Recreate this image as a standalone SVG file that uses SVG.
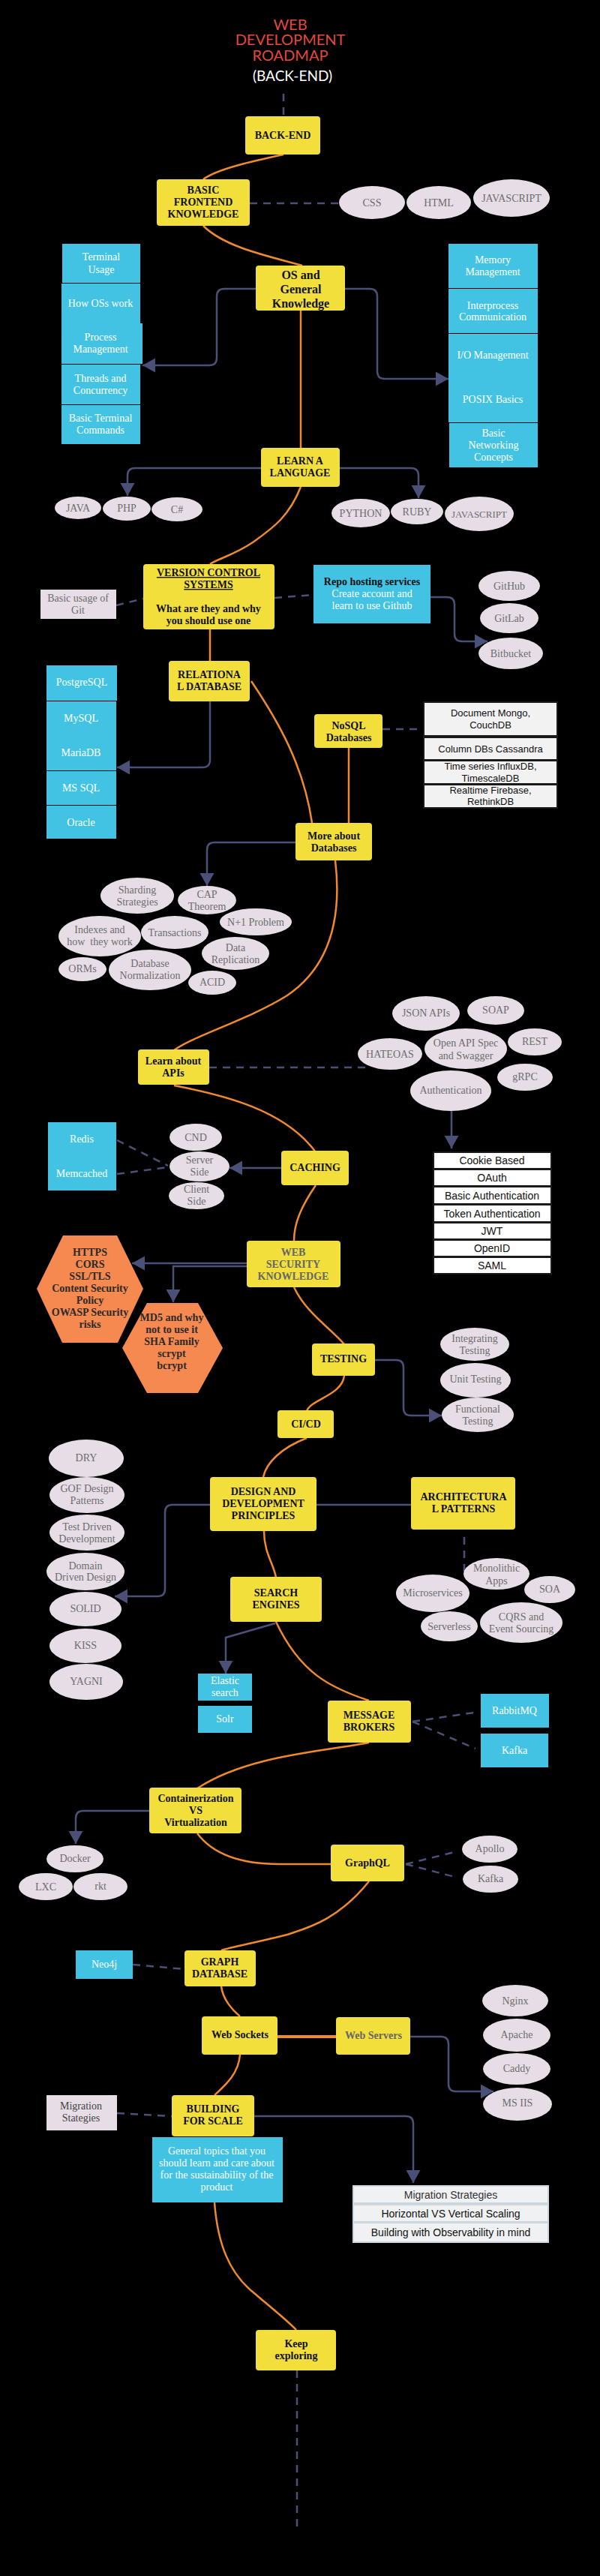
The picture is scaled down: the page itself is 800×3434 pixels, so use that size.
<svg xmlns="http://www.w3.org/2000/svg" width="800" height="3434" viewBox="0 0 800 3434">
<style>
.y{fill:#f2df3c}
.b{fill:#42c3e3}
.e{fill:#e6dde6}
.lv{fill:#e6dde6}
.hx{fill:#f5894f}
.tb{fill:#f2f2f2;stroke:#1a1a1a;stroke-width:2}
.tw{fill:#ffffff;stroke:#1a1a1a;stroke-width:2}
.tl{fill:#f0f1f2;stroke:#cdd5dd;stroke-width:2}
text{font-family:"Liberation Serif","Times New Roman",serif;font-size:14px;text-anchor:middle}
.k{font-weight:bold;fill:#111}
.kg{font-weight:bold;fill:#666}
.w{fill:#ffffff}
.g{fill:#6e6e6e}
.h{font-weight:bold;fill:#2a2a2a}
.s{font-family:"Liberation Sans",Arial,sans-serif;fill:#111}
.s13{font-size:13px}
.u{text-decoration:underline}
.big{font-size:16px}
.ttl{font-family:Lato,"Open Sans",sans-serif;font-size:20px;fill:#e2493b}
.sub{font-family:Lato,"Open Sans",sans-serif;font-size:19px;fill:#ffffff}
.o{stroke:#ef8a2e;stroke-width:2.5;fill:none}
.sl{stroke:#4a5078;stroke-width:2.5;fill:none}
.sa{stroke:#4a5078;stroke-width:2.5;fill:none;marker-end:url(#ar)}
.d{stroke:#4a5078;stroke-width:2.5;fill:none;stroke-dasharray:10 8}
</style>
<defs>
<marker id="ar" markerUnits="userSpaceOnUse" markerWidth="18" markerHeight="20" refX="17" refY="9.5" orient="auto">
<path d="M0,0 L17,9.5 L0,19 Z" fill="#4a5078"/>
</marker>
</defs>
<rect x="0" y="0" width="800" height="3434" fill="#000"/>

<g id="connectors">
<path class="d" d="M378,125 V155"/>
<path class="o" d="M378,206 C340,214 290,225 271,239"/>
<path class="d" d="M333,271 H452"/>
<path class="o" d="M271,301 C300,330 360,342 403,354"/>
<path class="sa" d="M341,385 H299 Q289,385 289,395 V477 Q289,487 279,487 H190"/>
<path class="sa" d="M460,385 H493 Q503,385 503,395 V495 Q503,505 513,505 H598"/>
<path class="o" d="M401,414 V597"/>
<path class="sa" d="M348,624 H180 Q170,624 170,634 V661"/>
<path class="sa" d="M453,624 H548 Q558,624 558,634 V664"/>
<path class="o" d="M401,649 C385,690 362,705 337,723 C312,740 290,745 280,752"/>
<path class="d" d="M155,807 L191,798"/>
<path class="d" d="M366,797 L418,793"/>
<path class="sa" d="M574,796 H596 Q606,796 606,806 V845 Q606,855 616,855 H650"/>
<path class="o" d="M280,839 V881"/>
<path class="sa" d="M280,935 V1013 Q280,1023 270,1023 H156"/>
<path class="o" d="M335,908 C370,960 405,1020 416,1097"/>
<path class="d" d="M510,972 H565"/>
<path class="o" d="M465,997 V1097"/>
<path class="sa" d="M394,1123 H286 Q276,1123 276,1133 V1181"/>
<path class="o" d="M447,1147 C458,1240 430,1295 383,1327 C330,1360 260,1380 232,1400"/>
<path class="d" d="M279,1423 H490"/>
<path class="sa" d="M602,1481 V1531"/>
<path class="o" d="M232,1447 C300,1460 380,1480 421,1536"/>
<path class="sa" d="M375,1557 H306"/>
<path class="d" d="M156,1520 L224,1554"/>
<path class="d" d="M156,1565 L224,1556"/>
<path class="o" d="M421,1580 C402,1608 392,1630 392,1654"/>
<path class="sa" d="M329,1684 H176"/>
<path class="sa" d="M329,1688 H231 V1736"/>
<path class="o" d="M392,1716 C408,1750 440,1770 459,1792"/>
<path class="sa" d="M500,1813 H528 Q538,1813 538,1823 V1877 Q538,1887 548,1887 H589"/>
<path class="o" d="M459,1834 C456,1860 415,1865 409,1881"/>
<path class="o" d="M409,1917 C375,1930 355,1950 351,1969"/>
<path class="sl" d="M422,2006 H548"/>
<path class="sa" d="M280,2006 H230 Q220,2006 220,2016 V2118 Q220,2128 210,2128 H153"/>
<path class="o" d="M352,2041 C352,2070 365,2085 368,2103"/>
<path class="d" d="M619,2049 V2100"/>
<path class="sa" d="M367,2164 L301,2183 V2231"/>
<path class="o" d="M368,2162 C400,2230 440,2250 492,2267"/>
<path class="d" d="M550,2295 L639,2282"/>
<path class="d" d="M550,2295 L634,2331"/>
<path class="o" d="M492,2323 C430,2335 330,2340 263,2384"/>
<path class="sa" d="M199,2414 H111 Q101,2414 101,2424 V2458"/>
<path class="o" d="M263,2444 C290,2480 340,2485 372,2485 L441,2485"/>
<path class="d" d="M541,2485 L610,2468"/>
<path class="d" d="M541,2485 L610,2503"/>
<path class="o" d="M492,2508 C450,2560 410,2570 383,2579 C340,2590 310,2595 295,2600"/>
<path class="d" d="M177,2619 L246,2625"/>
<path class="o" d="M295,2648 C297,2665 310,2680 320,2688"/>
<path class="o" d="M370,2715 H448" style="stroke-width:4"/>
<path class="sa" d="M547,2715 H588 Q598,2715 598,2725 V2778 Q598,2788 608,2788 H658"/>
<path class="o" d="M320,2739 C318,2765 300,2780 286,2793"/>
<path class="d" d="M156,2817 L229,2821"/>
<path class="sa" d="M339,2821 H541 Q551,2821 551,2831 V2910"/>
<path class="o" d="M286,2936 C290,2990 305,3030 339,3057 C360,3075 385,3095 395,3106"/>
<path class="d" d="M396,3160 V3372"/>
</g>

<g id="title">
<text class="ttl" x="387" y="40">WEB</text>
<text class="ttl" x="387" y="60">DEVELOPMENT</text>
<text class="ttl" x="387" y="81">ROADMAP</text>
<text class="sub" x="390" y="108">(BACK-END)</text>
</g>

<g id="backend"><rect class="y" x="327" y="155" width="100" height="51" rx="4"/><text class="k" x="377" y="185">BACK-END</text></g>
<g id="basic-frontend"><rect class="y" x="209" y="239" width="124" height="62" rx="4"/><text class="k" x="271" y="258">BASIC</text><text class="k" x="271" y="274">FRONTEND</text><text class="k" x="271" y="290">KNOWLEDGE</text></g>
<g id="css"><ellipse class="e" cx="496" cy="270" rx="44" ry="22"/><text class="g" x="496" y="275">CSS</text></g>
<g id="html"><ellipse class="e" cx="585" cy="270" rx="43" ry="22"/><text class="g" x="585" y="275">HTML</text></g>
<g id="javascript-fe"><ellipse class="e" cx="682" cy="264" rx="51" ry="25"/><text class="g" x="682" y="269">JAVASCRIPT</text></g>

<g id="terminal-usage"><rect class="b" x="83" y="325" width="104" height="52"/><text class="w" x="135" y="347">Terminal</text><text class="w" x="135" y="364">Usage</text></g>
<g id="how-os"><rect class="b" x="82" y="378" width="105" height="53"/><text class="w" x="134" y="409">How OSs work</text></g>
<g id="process-mgmt"><rect class="b" x="82" y="431" width="108" height="54"/><text class="w" x="134" y="454">Process</text><text class="w" x="134" y="470">Management</text></g>
<g id="threads"><rect class="b" x="82" y="486" width="105" height="53"/><text class="w" x="134" y="509">Threads and</text><text class="w" x="134" y="525">Concurrency</text></g>
<g id="terminal-cmds"><rect class="b" x="82" y="540" width="105" height="52"/><text class="w" x="134" y="562">Basic Terminal</text><text class="w" x="134" y="578">Commands</text></g>

<g id="os"><rect class="y" x="341" y="354" width="119" height="60" rx="4"/><text class="k big" x="401" y="372">OS and</text><text class="k big" x="401" y="391">General</text><text class="k big" x="401" y="410">Knowledge</text></g>

<g id="memory"><rect class="b" x="598" y="325" width="119" height="59"/><text class="w" x="657" y="351">Memory</text><text class="w" x="657" y="367">Management</text></g>
<g id="ipc"><rect class="b" x="598" y="385" width="119" height="59"/><text class="w" x="657" y="412">Interprocess</text><text class="w" x="657" y="427">Communication</text></g>
<g id="io-posix"><rect class="b" x="598" y="445" width="119" height="118"/><text class="w" x="657" y="478">I/O Management</text><text class="w" x="657" y="537">POSIX Basics</text></g>
<g id="networking"><rect class="b" x="599" y="564" width="118" height="59"/><text class="w" x="658" y="582">Basic</text><text class="w" x="658" y="598">Networking</text><text class="w" x="658" y="614">Concepts</text></g>

<g id="learn-lang"><rect class="y" x="348" y="597" width="105" height="52" rx="4"/><text class="k" x="400" y="619">LEARN A</text><text class="k" x="400" y="635">LANGUAGE</text></g>
<g id="java"><ellipse class="e" cx="104" cy="677" rx="31" ry="15"/><text class="g" x="104" y="682">JAVA</text></g>
<g id="php"><ellipse class="e" cx="169" cy="678" rx="32" ry="16"/><text class="g" x="169" y="682">PHP</text></g>
<g id="csharp"><ellipse class="e" cx="236" cy="679" rx="34" ry="16"/><text class="g" x="236" y="684">C#</text></g>
<g id="python"><ellipse class="e" cx="481" cy="684" rx="39" ry="19"/><text class="g" x="481" y="689">PYTHON</text></g>
<g id="ruby"><ellipse class="e" cx="556" cy="682" rx="35" ry="17"/><text class="g" x="556" y="687">RUBY</text></g>
<g id="javascript"><ellipse class="e" cx="639" cy="685" rx="46" ry="23"/><text class="g" x="639" y="690" style="font-size:13px">JAVASCRIPT</text></g>

<g id="vcs"><rect class="y" x="191" y="752" width="175" height="87" rx="4"/><text class="k u" x="278" y="768">VERSION CONTROL</text><text class="k u" x="278" y="784">SYSTEMS</text><text class="k" x="278" y="816">What are they and why</text><text class="k" x="278" y="832">you should use one</text></g>
<g id="git-basic"><rect class="lv" x="54" y="786" width="101" height="39"/><text class="g" x="104" y="802">Basic usage of</text><text class="g" x="104" y="818">Git</text></g>
<g id="repo"><rect class="b" x="418" y="753" width="156" height="78"/><text class="k" x="496" y="780">Repo hosting services</text><text class="w" x="496" y="796">Create account and</text><text class="w" x="496" y="812">learn to use Github</text></g>
<g id="github"><ellipse class="e" cx="679" cy="781" rx="41" ry="20"/><text class="g" x="679" y="786">GitHub</text></g>
<g id="gitlab"><ellipse class="e" cx="679" cy="824" rx="39" ry="20"/><text class="g" x="679" y="829">GitLab</text></g>
<g id="bitbucket"><ellipse class="e" cx="681" cy="871" rx="43" ry="21"/><text class="g" x="681" y="876">Bitbucket</text></g>

<g id="relational"><rect class="y" x="225" y="881" width="108" height="54" rx="4"/><text class="k" x="279" y="904">RELATIONA</text><text class="k" x="279" y="920">L DATABASE</text></g>
<g id="postgres"><rect class="b" x="62" y="887" width="94" height="47"/><text class="w" x="109" y="914">PostgreSQL</text></g>
<g id="mysql"><rect class="b" x="62" y="935" width="93" height="92"/><text class="w" x="108" y="962">MySQL</text><text class="w" x="108" y="1008">MariaDB</text></g>
<g id="mssql"><rect class="b" x="62" y="1028" width="93" height="45"/><text class="w" x="108" y="1055">MS SQL</text></g>
<g id="oracle"><rect class="b" x="62" y="1074" width="93" height="44"/><text class="w" x="108" y="1101">Oracle</text></g>

<g id="nosql"><rect class="y" x="419" y="952" width="91" height="45" rx="4"/><text class="k" x="465" y="972">NoSQL</text><text class="k" x="465" y="988">Databases</text></g>
<g id="nosql-list">
<rect class="tb" x="565" y="936" width="178" height="45"/><text class="s s13" x="654" y="955">Document Mongo,</text><text class="s s13" x="654" y="971">CouchDB</text>
<rect class="tb" x="565" y="983" width="178" height="30"/><text class="s s13" x="654" y="1003">Column DBs Cassandra</text>
<rect class="tb" x="565" y="1014" width="178" height="31"/><text class="s s13" x="654" y="1026">Time series InfluxDB,</text><text class="s s13" x="654" y="1042">TimescaleDB</text>
<rect class="tb" x="565" y="1046" width="178" height="31"/><text class="s s13" x="654" y="1058">Realtime Firebase,</text><text class="s s13" x="654" y="1073">RethinkDB</text>
</g>

<g id="more-db"><rect class="y" x="394" y="1097" width="102" height="50" rx="4"/><text class="k" x="445" y="1119">More about</text><text class="k" x="445" y="1135">Databases</text></g>
<g id="sharding"><ellipse class="e" cx="183" cy="1194" rx="49" ry="24"/><text class="g" x="183" y="1191">Sharding</text><text class="g" x="183" y="1207">Strategies</text></g>
<g id="cap"><ellipse class="e" cx="276" cy="1200" rx="39" ry="19"/><text class="g" x="276" y="1197">CAP</text><text class="g" x="276" y="1213">Theorem</text></g>
<g id="n1"><ellipse class="e" cx="341" cy="1229" rx="48" ry="18"/><text class="g" x="341" y="1234">N+1 Problem</text></g>
<g id="indexes"><ellipse class="e" cx="133" cy="1248" rx="55" ry="27"/><text class="g" x="133" y="1244">Indexes and</text><text class="g" x="133" y="1260" xml:space="preserve">how  they work</text></g>
<g id="transactions"><ellipse class="e" cx="233" cy="1243" rx="45" ry="22"/><text class="g" x="233" y="1248">Transactions</text></g>
<g id="replication"><ellipse class="e" cx="314" cy="1271" rx="45" ry="22"/><text class="g" x="314" y="1268">Data</text><text class="g" x="314" y="1284">Replication</text></g>
<g id="orms"><ellipse class="e" cx="110" cy="1292" rx="32" ry="16"/><text class="g" x="110" y="1296">ORMs</text></g>
<g id="normalization"><ellipse class="e" cx="200" cy="1293" rx="55" ry="27"/><text class="g" x="200" y="1289">Database</text><text class="g" x="200" y="1305">Normalization</text></g>
<g id="acid"><ellipse class="e" cx="283" cy="1310" rx="32" ry="16"/><text class="g" x="283" y="1314">ACID</text></g>

<g id="apis"><rect class="y" x="184" y="1399" width="95" height="47" rx="4"/><text class="k" x="231" y="1419">Learn about</text><text class="k" x="231" y="1435">APIs</text></g>
<g id="json"><ellipse class="e" cx="568" cy="1351" rx="45" ry="23"/><text class="g" x="568" y="1355">JSON APIs</text></g>
<g id="soap"><ellipse class="e" cx="661" cy="1347" rx="38" ry="19"/><text class="g" x="661" y="1351">SOAP</text></g>
<g id="rest"><ellipse class="e" cx="713" cy="1389" rx="36" ry="18"/><text class="g" x="713" y="1393">REST</text></g>
<g id="openapi"><ellipse class="e" cx="621" cy="1398" rx="55" ry="27"/><text class="g" x="621" y="1395">Open API Spec</text><text class="g" x="621" y="1412">and Swagger</text></g>
<g id="hateoas"><ellipse class="e" cx="520" cy="1405" rx="43" ry="21"/><text class="g" x="520" y="1410">HATEOAS</text></g>
<g id="grpc"><ellipse class="e" cx="700" cy="1436" rx="37" ry="18"/><text class="g" x="700" y="1440">gRPC</text></g>
<g id="auth"><ellipse class="e" cx="601" cy="1454" rx="54" ry="27"/><text class="g" x="601" y="1458">Authentication</text></g>
<g id="auth-list">
<rect class="tw" x="578" y="1536" width="157" height="22"/><text class="s" x="656" y="1552">Cookie Based</text>
<rect class="tw" x="578" y="1559" width="157" height="22"/><text class="s" x="656" y="1575">OAuth</text>
<rect class="tw" x="578" y="1582" width="157" height="23"/><text class="s" x="656" y="1599">Basic Authentication</text>
<rect class="tw" x="578" y="1606" width="157" height="23"/><text class="s" x="656" y="1623">Token Authentication</text>
<rect class="tw" x="578" y="1630" width="157" height="22"/><text class="s" x="656" y="1646">JWT</text>
<rect class="tw" x="578" y="1653" width="157" height="22"/><text class="s" x="656" y="1669">OpenID</text>
<rect class="tw" x="578" y="1676" width="157" height="22"/><text class="s" x="656" y="1692">SAML</text>
</g>

<g id="caching"><rect class="y" x="375" y="1534" width="90" height="46" rx="4"/><text class="k" x="420" y="1561">CACHING</text></g>
<g id="redis"><rect class="b" x="64" y="1496" width="91" height="91"/><text class="w" x="109" y="1523">Redis</text><text class="w" x="109" y="1569">Memcached</text></g>
<g id="cnd"><ellipse class="e" cx="261" cy="1516" rx="35" ry="18"/><text class="g" x="261" y="1521">CND</text></g>
<g id="server-side"><ellipse class="e" cx="266" cy="1555" rx="40" ry="20"/><text class="g" x="266" y="1551">Server</text><text class="g" x="266" y="1567">Side</text></g>
<g id="client-side"><ellipse class="e" cx="262" cy="1594" rx="37" ry="18"/><text class="g" x="262" y="1590">Client</text><text class="g" x="262" y="1606">Side</text></g>

<g id="web-security"><rect class="y" x="329" y="1654" width="125" height="62" rx="4"/><text class="kg" x="391" y="1674">WEB</text><text class="kg" x="391" y="1690">SECURITY</text><text class="kg" x="391" y="1706">KNOWLEDGE</text></g>
<g id="https"><polygon class="hx" points="84,1647 156,1647 191,1718 157,1790 83,1790 49,1718"/><text class="h" x="120" y="1674">HTTPS</text><text class="h" x="120" y="1690">CORS</text><text class="h" x="120" y="1706">SSL/TLS</text><text class="h" x="120" y="1722">Content Security</text><text class="h" x="120" y="1738">Policy</text><text class="h" x="120" y="1754">OWASP Security</text><text class="h" x="120" y="1770">risks</text></g>
<g id="hashing"><polygon class="hx" points="196,1737 264,1737 297,1797 264,1857 196,1857 163,1797"/><text class="h" x="229" y="1761">MD5 and why</text><text class="h" x="229" y="1777">not to use it</text><text class="h" x="229" y="1793">SHA Family</text><text class="h" x="229" y="1809">scrypt</text><text class="h" x="229" y="1825">bcrypt</text></g>

<g id="testing"><rect class="y" x="416" y="1791" width="84" height="43" rx="4"/><text class="k" x="458" y="1816">TESTING</text></g>
<g id="integration"><ellipse class="e" cx="633" cy="1792" rx="46" ry="22"/><text class="g" x="633" y="1789">Integrating</text><text class="g" x="633" y="1805">Testing</text></g>
<g id="unit"><ellipse class="e" cx="634" cy="1840" rx="47" ry="23"/><text class="g" x="634" y="1843">Unit Testing</text></g>
<g id="functional"><ellipse class="e" cx="637" cy="1886" rx="48" ry="23"/><text class="g" x="637" y="1883">Functional</text><text class="g" x="637" y="1899">Testing</text></g>
<g id="cicd"><rect class="y" x="370" y="1880" width="75" height="37" rx="4"/><text class="k" x="408" y="1903">CI/CD</text></g>

<g id="design"><rect class="y" x="280" y="1969" width="142" height="72" rx="4"/><text class="k" x="351" y="1993">DESIGN AND</text><text class="k" x="351" y="2009">DEVELOPMENT</text><text class="k" x="351" y="2025">PRINCIPLES</text></g>
<g id="architectural"><rect class="y" x="548" y="1969" width="139" height="70" rx="4"/><text class="k" x="618" y="2000">ARCHITECTURA</text><text class="k" x="618" y="2016">L PATTERNS</text></g>
<g id="dry"><ellipse class="e" cx="115" cy="1944" rx="50" ry="25"/><text class="g" x="115" y="1948">DRY</text></g>
<g id="gof"><ellipse class="e" cx="116" cy="1993" rx="50" ry="24"/><text class="g" x="116" y="1989">GOF Design</text><text class="g" x="116" y="2005">Patterns</text></g>
<g id="tdd"><ellipse class="e" cx="116" cy="2043" rx="50" ry="24"/><text class="g" x="116" y="2040">Test Driven</text><text class="g" x="116" y="2056">Development</text></g>
<g id="ddd"><ellipse class="e" cx="114" cy="2095" rx="52" ry="25"/><text class="g" x="114" y="2092">Domain</text><text class="g" x="114" y="2107">Driven Design</text></g>
<g id="solid"><ellipse class="e" cx="114" cy="2145" rx="48" ry="23"/><text class="g" x="114" y="2149">SOLID</text></g>
<g id="kiss"><ellipse class="e" cx="114" cy="2194" rx="48" ry="23"/><text class="g" x="114" y="2198">KISS</text></g>
<g id="yagni"><ellipse class="e" cx="115" cy="2242" rx="49" ry="24"/><text class="g" x="115" y="2246">YAGNI</text></g>

<g id="search"><rect class="y" x="307" y="2102" width="122" height="60" rx="4"/><text class="k" x="368" y="2128">SEARCH</text><text class="k" x="368" y="2144">ENGINES</text></g>
<g id="elastic"><rect class="b" x="264" y="2231" width="72" height="36"/><text class="w" x="300" y="2245">Elastic</text><text class="w" x="300" y="2261">search</text></g>
<g id="solr"><rect class="b" x="264" y="2274" width="72" height="36"/><text class="w" x="300" y="2296">Solr</text></g>

<g id="microservices"><ellipse class="e" cx="577" cy="2124" rx="49" ry="25"/><text class="g" x="577" y="2128">Microservices</text></g>
<g id="monolithic"><ellipse class="e" cx="662" cy="2098" rx="44" ry="21"/><text class="g" x="662" y="2095">Monolithic</text><text class="g" x="662" y="2112">Apps</text></g>
<g id="soa"><ellipse class="e" cx="733" cy="2119" rx="34" ry="18"/><text class="g" x="733" y="2123">SOA</text></g>
<g id="serverless"><ellipse class="e" cx="599" cy="2168" rx="38" ry="20"/><text class="g" x="599" y="2173">Serverless</text></g>
<g id="cqrs"><ellipse class="e" cx="695" cy="2163" rx="55" ry="27"/><text class="g" x="695" y="2160">CQRS and</text><text class="g" x="695" y="2176">Event Sourcing</text></g>

<g id="message"><rect class="y" x="437" y="2267" width="111" height="56" rx="4"/><text class="k" x="492" y="2291">MESSAGE</text><text class="k" x="492" y="2307">BROKERS</text></g>
<g id="rabbitmq"><rect class="b" x="641" y="2258" width="91" height="45"/><text class="w" x="686" y="2285">RabbitMQ</text></g>
<g id="kafka-mq"><rect class="b" x="641" y="2311" width="90" height="45"/><text class="w" x="686" y="2338">Kafka</text></g>

<g id="containers"><rect class="y" x="199" y="2383" width="123" height="61" rx="4"/><text class="k" x="261" y="2402">Containerization</text><text class="k" x="261" y="2418">VS</text><text class="k" x="261" y="2434">Virtualization</text></g>
<g id="docker"><ellipse class="e" cx="100" cy="2478" rx="38" ry="18"/><text class="g" x="100" y="2482">Docker</text></g>
<g id="lxc"><ellipse class="e" cx="61" cy="2515" rx="36" ry="18"/><text class="g" x="61" y="2520">LXC</text></g>
<g id="rkt"><ellipse class="e" cx="134" cy="2515" rx="36" ry="18"/><text class="g" x="134" y="2519">rkt</text></g>

<g id="graphql"><rect class="y" x="441" y="2459" width="98" height="49" rx="4"/><text class="k" x="490" y="2488">GraphQL</text></g>
<g id="apollo"><ellipse class="e" cx="653" cy="2465" rx="37" ry="18"/><text class="g" x="653" y="2469">Apollo</text></g>
<g id="kafka-gql"><ellipse class="e" cx="654" cy="2505" rx="37" ry="18"/><text class="g" x="654" y="2509">Kafka</text></g>

<g id="graph-db"><rect class="y" x="246" y="2600" width="95" height="48" rx="4"/><text class="k" x="293" y="2620">GRAPH</text><text class="k" x="293" y="2636">DATABASE</text></g>
<g id="neo4j"><rect class="b" x="101" y="2600" width="76" height="38"/><text class="w" x="139" y="2623">Neo4j</text></g>

<g id="websockets"><rect class="y" x="269" y="2688" width="101" height="51" rx="4"/><text class="k" x="320" y="2717">Web Sockets</text></g>
<g id="webservers"><rect class="y" x="448" y="2689" width="99" height="50" rx="4"/><text class="kg" x="498" y="2718">Web Servers</text></g>
<g id="nginx"><ellipse class="e" cx="687" cy="2667" rx="44" ry="21"/><text class="g" x="687" y="2672">Nginx</text></g>
<g id="apache"><ellipse class="e" cx="689" cy="2713" rx="45" ry="22"/><text class="g" x="689" y="2717">Apache</text></g>
<g id="caddy"><ellipse class="e" cx="689" cy="2758" rx="45" ry="21"/><text class="g" x="689" y="2762">Caddy</text></g>
<g id="msiis"><ellipse class="e" cx="690" cy="2805" rx="46" ry="22"/><text class="g" x="690" y="2808">MS IIS</text></g>

<g id="building"><rect class="y" x="229" y="2793" width="110" height="55" rx="4"/><text class="k" x="284" y="2816">BUILDING</text><text class="k" x="284" y="2832">FOR SCALE</text></g>
<g id="migration"><rect class="lv" x="62" y="2793" width="94" height="47"/><text class="g" x="108" y="2812" style="fill:#444">Migration</text><text class="g" x="108" y="2828" style="fill:#444">Stategies</text></g>
<g id="general"><rect class="b" x="203" y="2849" width="174" height="87"/><text class="w" x="289" y="2872">General topics that you</text><text class="w" x="289" y="2888">should learn and care about</text><text class="w" x="289" y="2904">for the sustainability of the</text><text class="w" x="289" y="2920">product</text></g>
<g id="scale-list">
<rect class="tl" x="471" y="2914" width="260" height="23"/><text class="s" x="601" y="2931" style="fill:#333">Migration Strategies</text>
<rect class="tl" x="471" y="2939" width="260" height="23"/><text class="s" x="601" y="2956">Horizontal VS Vertical Scaling</text>
<rect class="tl" x="471" y="2963" width="260" height="26"/><text class="s" x="601" y="2981">Building with Observability in mind</text>
</g>

<g id="keep"><rect class="y" x="341" y="3106" width="107" height="54" rx="4"/><text class="k" x="395" y="3129">Keep</text><text class="k" x="395" y="3145">exploring</text></g>
</svg>
